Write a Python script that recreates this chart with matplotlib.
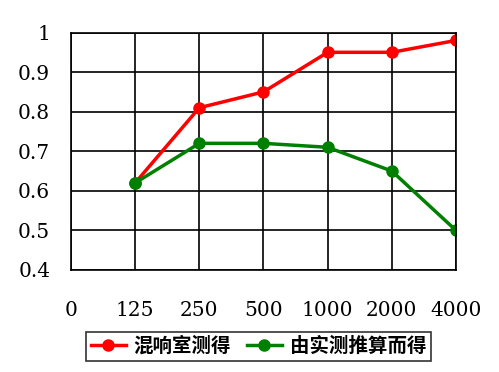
import matplotlib
matplotlib.use("Agg")
import matplotlib.pyplot as plt

categories = ["0", "125", "250", "500", "1000", "2000", "4000"]
red_x = ["125", "250", "500", "1000", "2000", "4000"]
red_vals = [0.62, 0.81, 0.85, 0.95, 0.95, 0.98]
green_vals = [0.62, 0.72, 0.72, 0.71, 0.65, 0.50]
yticks = [0.4, 0.5, 0.6, 0.7, 0.8, 0.9, 1.0]
ytick_labels = ["0.4", "0.5", "0.6", "0.7", "0.8", "0.9", "1"]
series_names = ["混响室测得", "由实测推算而得"]

plt.rcParams['font.family'] = ['Noto Sans CJK SC', 'DejaVu Sans']

fig = plt.figure(figsize=(4.99, 3.72), dpi=100)
ax = fig.add_axes([0.1423, 0.2742, 0.7715, 0.6384])

xpos = [categories.index(c) for c in red_x]
l1, = ax.plot(xpos, red_vals, color="#ff0000", lw=2.5, marker="o", ms=8, label=series_names[0])
l2, = ax.plot(xpos, green_vals, color="#008000", lw=2.5, marker="o", ms=8, label=series_names[1])

ax.set_xlim(0, len(categories) - 1)
ax.set_ylim(0.4, 1.0)
ax.set_xticks(range(len(categories)))
ax.set_xticklabels(categories)
ax.set_yticks(yticks)
ax.set_yticklabels(ytick_labels)
ax.grid(True, color="black", lw=1.2)
for s in ax.spines.values():
    s.set_color("black")
    s.set_linewidth(1.2)
ax.tick_params(length=0, labelsize=14.5, pad=15)
ax.tick_params(axis="x", pad=22)
for lab in ax.get_xticklabels() + ax.get_yticklabels():
    lab.set_family(["DejaVu Serif"])

leg = fig.legend(handles=[l1, l2], loc="center", bbox_to_anchor=(0.518, 0.069),
                 ncol=2, frameon=True, fancybox=False, edgecolor="black",
                 fontsize=14, handlelength=1.8, columnspacing=0.8,
                 borderpad=0.25, handletextpad=0.4)
leg.get_frame().set_linewidth(1.2)
for t in leg.get_texts():
    t.set_fontweight("bold")

fig.savefig("out.png", dpi=100)
